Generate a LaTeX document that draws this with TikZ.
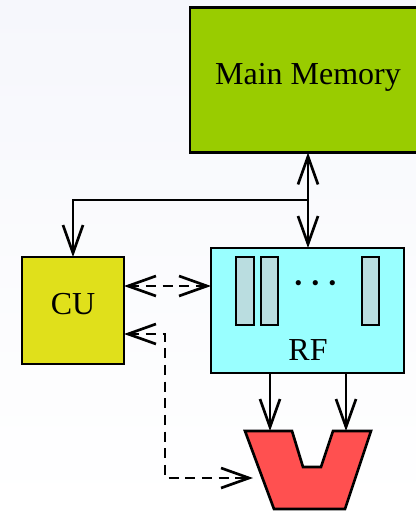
\documentclass[tikz,border=0pt]{standalone}
\usepackage{fontspec}
\setmainfont{Liberation Serif}
\usetikzlibrary{arrows.meta}
\definecolor{bgtop}{RGB}{246,247,252}
\definecolor{mmgreen}{HTML}{99CC00}
\definecolor{cuyellow}{HTML}{E0E01B}
\definecolor{rfcyan}{HTML}{99FFFF}
\definecolor{reggray}{HTML}{BADDE0}
\definecolor{alured}{HTML}{FF5050}
\tikzset{
  blockbox/.style={draw=black, line width=2pt, inner sep=0pt, outer sep=0pt,
    font=\fontsize{24}{28}\selectfont, text height=0.66em, text depth=0pt},
  regbox/.style={draw=black, line width=2pt, fill=reggray, inner sep=0pt, outer sep=0pt,
    minimum height=51pt},
  arr/.style={line width=2pt, >={Straight Barb[length=21pt,width=15pt]}},
  darr/.style={arr, dash pattern=on 7.5pt off 5pt},
  alushape/.style={draw=black, line width=2pt, fill=alured, line join=miter}
}
\begin{document}
\begin{tikzpicture}[x=0.75pt,y=-0.75pt]
\shade[top color=bgtop,bottom color=white] (0,0) rectangle (416,511);
\useasboundingbox (0,0) rectangle (416,511);
\clip (0,0) rectangle (416,511);

% blocks
\node[blockbox, fill=mmgreen, minimum width=177pt, minimum height=108.75pt] (mm) at (308,80) {Main Memory};
\node[blockbox, fill=cuyellow, minimum width=76.5pt, minimum height=80.25pt] (cu) at (73,310.5) {CU};
\node[blockbox, fill=rfcyan, minimum width=144.75pt, minimum height=93.75pt] (rf) at (307.5,310.5) {};
\node[regbox, minimum width=13.5pt] (r1) at (245,291) {};
\node[regbox, minimum width=12.75pt] (r2) at (269.5,291) {};
\node[regbox, minimum width=12.75pt] (r3) at (370.5,291) {};
\node[anchor=base, inner sep=0pt, font=\fontsize{27}{30}\selectfont\boldmath] (dots) at (315.5,291) {$\cdots$};
\node[anchor=base, inner sep=0pt, font=\fontsize{24}{28}\selectfont] (rflabel) at (308,360.7) {RF};

% ALU
\draw[alushape] (245,431) -- (292,431) -- (303,467) -- (321,467) -- (333,431) -- (371,431) -- (345,509) -- (274,509) -- cycle;
\coordinate (alu1) at (270,431);
\coordinate (alu2) at (346,431);
\coordinate (aluc) at (253,478);

% connectors
\coordinate (j) at (308,200);
\coordinate (ycr) at (0,286);
\coordinate (bend1) at (165,334);
\coordinate (bend2) at (165,478);
\draw[arr,<->] (mm.south -| j) -- (rf.north -| j);
\draw[arr,->] (j) -| (cu.north);
\draw[darr,<->] (cu.east |- ycr) -- (rf.west |- ycr);
\draw[arr,->] (rf.south -| alu1) -- (alu1);
\draw[arr,->] (rf.south -| alu2) -- (alu2);
\draw[darr,<->] (cu.east |- bend1) -- (bend1) -- (bend2) -- (aluc);
\end{tikzpicture}
\end{document}
